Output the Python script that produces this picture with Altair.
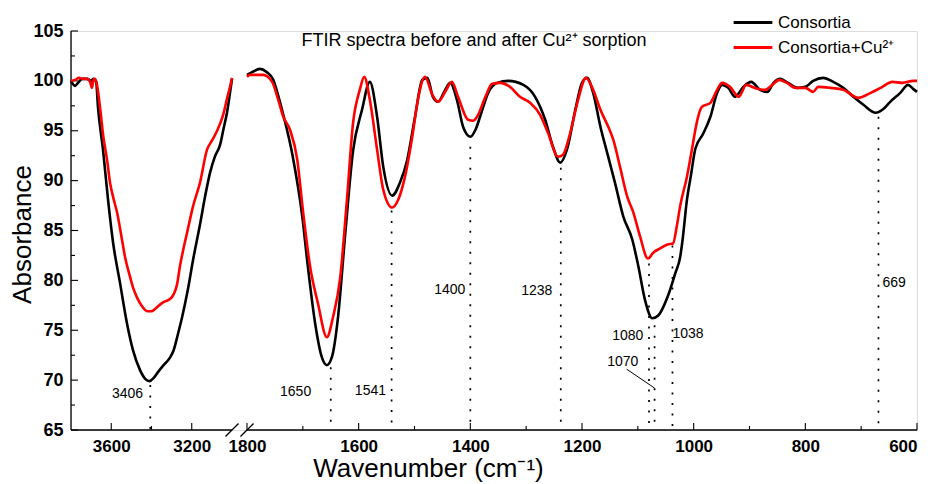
import altair as alt
import pandas as pd

# ---------------- data ----------------
# Consortia (black), left panel 3800-3000 cm-1
black_left_wn = [3800, 3780, 3765, 3745, 3720, 3700, 3690, 3675, 3666, 3641, 3616, 3591, 3556, 3522,
                 3492, 3457, 3430, 3410, 3390, 3368, 3340, 3310, 3290, 3270, 3248, 3220, 3194, 3159,
                 3130, 3109, 3085, 3059, 3040, 3025, 3010, 3000]
black_left_ab = [100.0, 99.5, 99.8, 100.2, 100.2, 100.0, 100.2, 99.9, 97.4, 93.1, 88.1, 83.8, 79.7, 75.7,
                 73.0, 71.0, 70.1, 69.9, 70.2, 70.8, 71.5, 72.2, 73.0, 74.5, 76.3, 79.0, 82.0, 85.6,
                 88.8, 90.8, 92.4, 93.6, 95.4, 96.8, 98.8, 100.2]
# Consortia (black), right panel 1800-600 cm-1
black_right_wn = [1800, 1790, 1777, 1765, 1753, 1744, 1735, 1718, 1701, 1691, 1678, 1666, 1657, 1648, 1637,
                  1624, 1610, 1594, 1580, 1567, 1556, 1540, 1526, 1513, 1499, 1486, 1477, 1467, 1458, 1445,
                  1436, 1424, 1413, 1400, 1390, 1382, 1368, 1352, 1332, 1305, 1284, 1266, 1252, 1239, 1227,
                  1212, 1200, 1191, 1180, 1167, 1155, 1141, 1126, 1110, 1099, 1087, 1074, 1063, 1047, 1033,
                  1024, 1020, 1012, 1005, 997, 983, 970, 958, 949, 938, 926, 911, 897, 881, 868, 857, 845,
                  831, 814, 800, 786, 768, 750, 732, 714, 696, 674, 662, 648, 630, 616, 607, 600]
black_right_ab = [100.6, 100.9, 101.2, 100.9, 100.1, 98.5, 96.6, 92.4, 86.4, 81.4, 75.7, 72.3, 71.5, 72.3, 76.3,
                  84.7, 93.0, 97.1, 99.9, 96.4, 91.4, 88.5, 89.8, 92.1, 96.4, 100.1, 100.3, 98.4, 97.9, 99.1,
                  99.8, 98.1, 95.4, 94.4, 95.2, 96.5, 98.8, 99.8, 100.0, 99.6, 98.4, 96.1, 93.4, 91.8, 93.1,
                  97.1, 99.8, 100.3, 98.8, 95.4, 92.8, 89.8, 86.4, 84.1, 81.4, 78.0, 76.2, 76.5, 78.3, 80.7,
                  82.4, 84.0, 88.1, 90.5, 93.2, 94.7, 96.4, 98.8, 99.6, 99.3, 98.4, 99.4, 99.9, 99.1, 98.9, 99.8, 100.2,
                  99.8, 99.3, 99.4, 100.0, 100.3, 99.9, 99.3, 98.4, 97.6, 96.8, 97.1, 97.9, 98.8, 99.6, 99.2, 98.9]
# Consortia+Cu2+ (red), left panel
red_left_wn = [3800, 3780, 3760, 3740, 3720, 3705, 3696, 3688, 3680, 3670, 3656, 3640, 3621, 3606, 3590,
               3571, 3546, 3532, 3510, 3492, 3470, 3447, 3420, 3405, 3390, 3373, 3350, 3333, 3310, 3290,
               3273, 3258, 3243, 3223, 3194, 3159, 3124, 3100, 3074, 3044, 3025, 3010, 3000]
red_left_ab = [100.0, 100.1, 100.3, 100.2, 100.2, 99.9, 99.3, 100.1, 100.2, 99.5, 97.4, 94.5, 92.1, 89.8, 88.3,
               86.8, 84.0, 82.4, 80.6, 79.3, 78.2, 77.4, 76.9, 76.9, 77.0, 77.3, 77.7, 77.9, 78.1, 78.6,
               79.6, 81.5, 83.0, 84.8, 87.4, 89.8, 93.1, 94.0, 95.0, 96.6, 98.2, 99.4, 100.3]
# Consortia+Cu2+ (red), right panel
red_right_wn = [1800, 1795, 1771, 1755, 1744, 1735, 1723, 1710, 1700, 1687, 1673, 1657, 1646, 1633, 1621,
                1610, 1598, 1590, 1580, 1567, 1556, 1540, 1529, 1517, 1504, 1494, 1481, 1468, 1458, 1445,
                1433, 1422, 1404, 1395, 1388, 1373, 1361, 1347, 1329, 1311, 1293, 1275, 1261, 1243, 1234,
                1221, 1207, 1193, 1180, 1167, 1153, 1144, 1132, 1119, 1108, 1096, 1082, 1072, 1060, 1047,
                1037, 1030, 1024, 1012, 1001, 997, 985, 970, 958, 949, 935, 919, 906, 886, 872, 859, 847,
                833, 818, 800, 786, 777, 755, 732, 705, 683, 665, 644, 626, 607, 600]
red_right_ab = [100.4, 100.6, 100.6, 99.9, 98.1, 96.4, 95.1, 92.1, 87.1, 81.4, 77.7, 74.3, 76.3, 80.3, 88.1,
                95.8, 99.1, 100.4, 98.1, 93.1, 89.1, 87.3, 88.1, 90.4, 94.4, 98.1, 100.4, 98.6, 97.9, 98.9,
                99.9, 98.4, 96.1, 96.0, 96.4, 98.4, 99.7, 99.8, 99.4, 98.4, 97.8, 96.6, 94.8, 92.4, 92.6,
                94.8, 98.1, 100.3, 99.1, 97.1, 95.4, 94.1, 91.4, 88.4, 86.8, 84.4, 82.2, 82.8, 83.2, 83.6,
                83.7, 85.5, 87.5, 90.4, 93.8, 95.1, 97.4, 97.8, 99.1, 99.8, 99.4, 98.4, 99.6, 99.2, 99.1, 99.6, 100.1,
                99.8, 99.3, 99.3, 98.9, 99.4, 99.3, 99.1, 98.3, 98.8, 99.3, 99.9, 99.8, 100.0, 100.0]

series_names = ["Consortia", "Consortia+Cu²⁺"]
series_colors = ["#000000", "#ff0000"]

# peak markers: wavenumber, top of dotted line
peak_wn = [3406, 1650, 1541, 1400, 1238, 1080, 1070, 1038, 669]
peak_top = [69.5, 71.3, 87.0, 93.4, 91.3, 81.7, 75.5, 83.5, 96.4]
# peak labels: text, anchor wavenumber, value, alignment
label_text = ["3406", "1650", "1541", "1400", "1238", "1080", "1070", "1038", "669"]
label_wn = [3442, 1685, 1551, 1409, 1253, 1090, 1099, 1038, 662]
label_val = [68.6, 68.8, 68.9, 79.0, 78.9, 74.4, 71.8, 74.6, 79.7]
label_align = ["right", "right", "right", "right", "right", "right", "right", "left", "left"]
# leader line for the 1070 label
leader_wn = [1120, 1070]
leader_val = [71.1, 69.2]

# axes
x_domain = [3800, 3000, 1800, 600]
x_range = [0, 161, 176, 846]
y_min, y_max = 65, 105
x_major = [3600, 3200, 1800, 1600, 1400, 1200, 1000, 800, 600]
x_minor = [3400, 1700, 1500, 1300, 1100, 900, 700]
y_major = [65, 70, 75, 80, 85, 90, 95, 100, 105]
y_minor = [67.5, 72.5, 77.5, 82.5, 87.5, 92.5, 97.5, 102.5]
axis_seg_start = [3800, 1800]
axis_seg_end = [3000, 600]
break_at = [3000, 1800]

FONT = "Liberation Sans"

# ---------------- frames ----------------
rows = []
for name, seg, wns, abs_ in [
    (series_names[0], "L", black_left_wn, black_left_ab),
    (series_names[0], "R", black_right_wn, black_right_ab),
    (series_names[1], "L", red_left_wn, red_left_ab),
    (series_names[1], "R", red_right_wn, red_right_ab),
]:
    for i, (w, a) in enumerate(zip(wns, abs_)):
        rows.append({"series": name, "seg": name + seg, "wn": w, "val": a, "i": i})
curves = pd.DataFrame(rows)

peaks = pd.DataFrame({"wn": peak_wn, "val": peak_top, "val2": [y_min] * len(peak_wn)})
labels = pd.DataFrame({"text": label_text, "wn": label_wn, "val": label_val, "align": label_align})
leader = pd.DataFrame({"wn": [leader_wn[0]], "wn2": [leader_wn[1]], "val": [leader_val[0]], "val2": [leader_val[1]]})
xticks = pd.DataFrame({"wn": x_major + x_minor, "major": [True] * len(x_major) + [False] * len(x_minor)})
yticks = pd.DataFrame({"val": y_major + y_minor, "major": [True] * len(y_major) + [False] * len(y_minor)})
axis_segs = pd.DataFrame({"wn": axis_seg_start, "wn2": axis_seg_end})
breaks = pd.DataFrame({"wn": break_at})

xscale = alt.Scale(domain=x_domain, range=x_range, zero=False, nice=False)
yscale = alt.Scale(domain=[y_min, y_max], zero=False, nice=False)

xaxis = alt.Axis(
    values=x_major, format="d", ticks=False, domain=False, grid=False,
    labelFont=FONT, labelFontSize=17, labelFontWeight="bold", labelColor="black", labelPadding=8,
    title="Wavenumber (cm⁻¹)", titleFont=FONT, titleFontSize=26, titleFontWeight="normal",
    titleColor="black", titleX=357, titleY=46, titleBaseline="alphabetic", titleAlign="center",
)
yaxis = alt.Axis(
    values=y_major, format="d", ticks=False, domain=False, grid=False,
    labelFont=FONT, labelFontSize=18, labelFontWeight="bold", labelColor="black", labelPadding=8,
    title="Absorbance", titleFont=FONT, titleFontSize=26, titleFontWeight="normal", titleColor="black",
    titleAngle=270, titleX=-41, titleY=203, titleBaseline="alphabetic", titleAlign="center",
)


def X(field="wn"):
    return alt.X(f"{field}:Q", scale=xscale, axis=xaxis)


def Y(field="val"):
    return alt.Y(f"{field}:Q", scale=yscale, axis=yaxis)


base_axis = alt.Chart(axis_segs).mark_rule(color="black", strokeWidth=1.3).encode(
    x=X(), x2="wn2:Q", y=alt.Y("v:Q", scale=yscale, axis=yaxis)
).transform_calculate(v=str(y_min))

y_axis_line = alt.Chart(pd.DataFrame({"wn": [x_domain[0]]})).mark_rule(color="black", strokeWidth=1.3).encode(
    x=X(), y=alt.Y("v:Q", scale=yscale, axis=yaxis), y2="v2:Q"
).transform_calculate(v=str(y_min), v2=str(y_max))

xtick_layer = alt.Chart(xticks).mark_rule(color="black", strokeWidth=1.1).encode(
    x=X(), y=alt.Y("v:Q", scale=yscale, axis=yaxis), y2="v2:Q"
).transform_calculate(v=str(y_min), v2=f"datum.major ? {y_min} + 0.7 : {y_min} + 0.4")

ytick_layer = alt.Chart(yticks).mark_rule(color="black", strokeWidth=1.1).encode(
    x=alt.X("w:Q", scale=xscale, axis=xaxis), x2="w2:Q", y=Y()
).transform_calculate(w=str(x_domain[0]), w2=f"datum.major ? {x_domain[0]} - 35 : {x_domain[0]} - 20")

break_layer = alt.Chart(breaks).mark_point(
    shape="stroke", size=340, angle=315, color="black", strokeWidth=1.3, filled=False, opacity=1
).encode(x=X(), y=alt.Y("v:Q", scale=yscale, axis=yaxis)).transform_calculate(v=str(y_min))

peak_layer = alt.Chart(peaks).mark_rule(color="black", strokeWidth=1.7, strokeDash=[2, 8.5]).encode(
    x=X(), y=Y(), y2="val2:Q"
)

leader_layer = alt.Chart(leader).mark_rule(color="black", strokeWidth=1).encode(
    x=X(), x2="wn2:Q", y=Y(), y2="val2:Q"
)

label_right = alt.Chart(labels[labels["align"] == "right"]).mark_text(
    align="right", baseline="middle", font=FONT, fontSize=14, color="black"
).encode(x=X(), y=Y(), text="text:N")
label_left = alt.Chart(labels[labels["align"] == "left"]).mark_text(
    align="left", baseline="middle", font=FONT, fontSize=14, color="black"
).encode(x=X(), y=Y(), text="text:N")

lines = alt.Chart(curves).mark_line(strokeWidth=2.6, interpolate="monotone").encode(
    x=X(), y=Y(),
    color=alt.Color(
        "series:N",
        scale=alt.Scale(domain=series_names, range=series_colors),
        legend=alt.Legend(
            orient="none", legendX=661, legendY=-17, title=None,
            symbolType="stroke", symbolSize=1500, symbolStrokeWidth=3, clipHeight=17,
            labelFont=FONT, labelFontSize=17, labelColor="black", labelOffset=4, rowPadding=7, padding=0,
        ),
    ),
    detail="seg:N",
    order="i:Q",
)

chart = alt.layer(
    base_axis, y_axis_line, xtick_layer, ytick_layer, break_layer,
    peak_layer, leader_layer, label_right, label_left, lines,
).properties(
    width=846, height=399,
    title=alt.TitleParams(
        "FTIR spectra before and after Cu²⁺ sorption", anchor="middle", dx=-20, dy=50, offset=0,
        baseline="alphabetic", font=FONT, fontSize=18, fontWeight="normal", color="black",
    ),
    autosize=alt.AutoSizeParams(type="none"),
    padding={"left": 63, "top": 23, "right": 3, "bottom": 54},
).configure_view(strokeWidth=0).configure(background="white")

chart.save("out.html", embed_options={"renderer": "svg", "actions": False})
